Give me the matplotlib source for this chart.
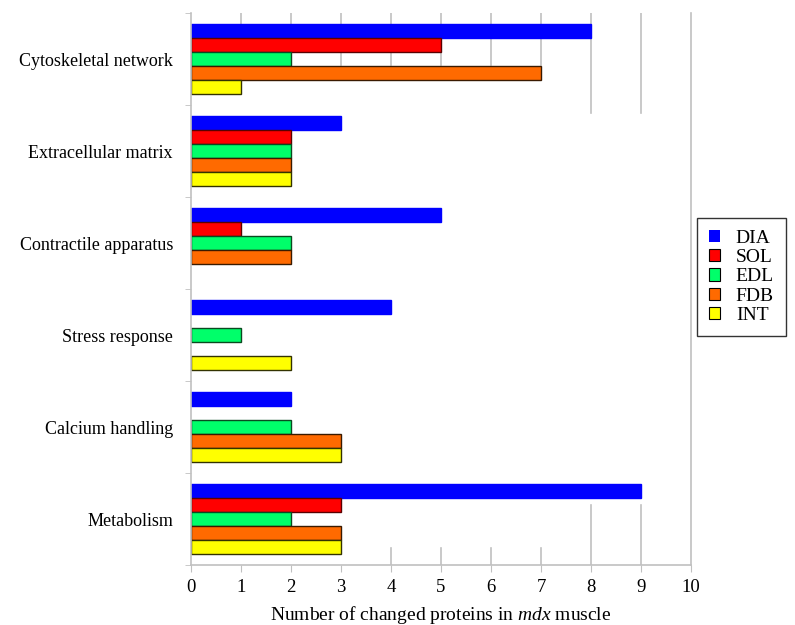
import matplotlib
matplotlib.use("Agg")
import matplotlib.pyplot as plt
from matplotlib.patches import Patch
import numpy as np

plt.rcParams['font.family'] = ['Liberation Serif', 'DejaVu Serif']
plt.rcParams['mathtext.fontset'] = 'custom'
plt.rcParams['mathtext.it'] = 'Liberation Serif:italic'
plt.rcParams['mathtext.rm'] = 'Liberation Serif'

# categories, bottom to top
categories = ["Metabolism", "Calcium handling", "Stress response",
              "Contractile apparatus", "Extracellular matrix", "Cytoskeletal network"]
series = ["DIA", "SOL", "EDL", "FDB", "INT"]
dia = [9, 2, 4, 5, 3, 8]
sol = [3, 0, 0, 1, 2, 5]
edl = [2, 2, 1, 2, 2, 2]
fdb = [3, 3, 0, 2, 2, 7]
int_ = [3, 3, 2, 0, 2, 1]
values = [dia, sol, edl, fdb, int_]

colors = ['#0000FF', '#FF0000', '#00FF6A', '#FF6A00', '#FFFF00']
edges = ['#0000FF', '#5a0000', '#0a4a20', '#3a1a00', '#333300']

fig = plt.figure(figsize=(7.95, 6.25), dpi=100)
ax = fig.add_axes([191 / 795, 60 / 625, 500 / 795, 552 / 625])

h = 0.152
y = np.arange(len(categories))
offsets = [2 * h, h, 0, -h, -2 * h]

# partial gridlines (as they show up in the original)
grid_c = '#c0c0c0'
for xv in range(1, 8):
    ax.plot([xv, xv], [4.93, 5.5], color=grid_c, lw=1.2, zorder=0)
for xv in (8, 9):
    ax.plot([xv, xv], [4.41, 5.5], color=grid_c, lw=1.2, zorder=0)
    ax.plot([xv, xv], [-0.5, 0.15], color=grid_c, lw=1.2, zorder=0)
for xv in range(4, 8):
    ax.plot([xv, xv], [-0.5, -0.31], color=grid_c, lw=1.2, zorder=0)

for i, vals in enumerate(values):
    for j, v in enumerate(vals):
        if v == 0:
            continue
        ax.barh(y[j] + offsets[i], v, height=h, color=colors[i],
                edgecolor=edges[i], linewidth=1.0, zorder=2)

ax.set_xlim(0, 10)
ax.set_ylim(-0.5, len(categories) - 0.5)
ax.set_xticks(range(0, 11))
ax.set_yticks(y)
ax.set_yticklabels(categories, fontsize=13)
ax.set_yticks(np.arange(-0.5, len(categories), 1.0), minor=True)
ax.tick_params(axis='y', which='major', length=0, pad=13)
ax.tick_params(axis='y', which='minor', length=4, color=grid_c, direction='out')
ax.tick_params(axis='x', length=5, color=grid_c, direction='out', labelsize=13.5, pad=5)

for s in ['left', 'bottom', 'right']:
    ax.spines[s].set_color(grid_c)
    ax.spines[s].set_linewidth(1.2)
ax.spines['top'].set_visible(False)

ax.set_xlabel(r"Number of changed proteins in $\it{mdx}$ muscle", fontsize=14, labelpad=6)

handles = [Patch(facecolor=colors[i], edgecolor=('none' if i == 0 else 'black'),
                 linewidth=0.8) for i in range(len(series))]
leg = fig.legend(handles, series, loc='upper left',
                 bbox_to_anchor=(697 / 795, 1 - 218 / 625), fontsize=14,
                 frameon=True, fancybox=False, edgecolor='black',
                 handlelength=0.6, handleheight=0.6, handletextpad=0.8,
                 borderpad=0.6, labelspacing=0.12, borderaxespad=0)
leg.get_frame().set_linewidth(1.0)

fig.savefig("out.png", dpi=100, facecolor='white')
